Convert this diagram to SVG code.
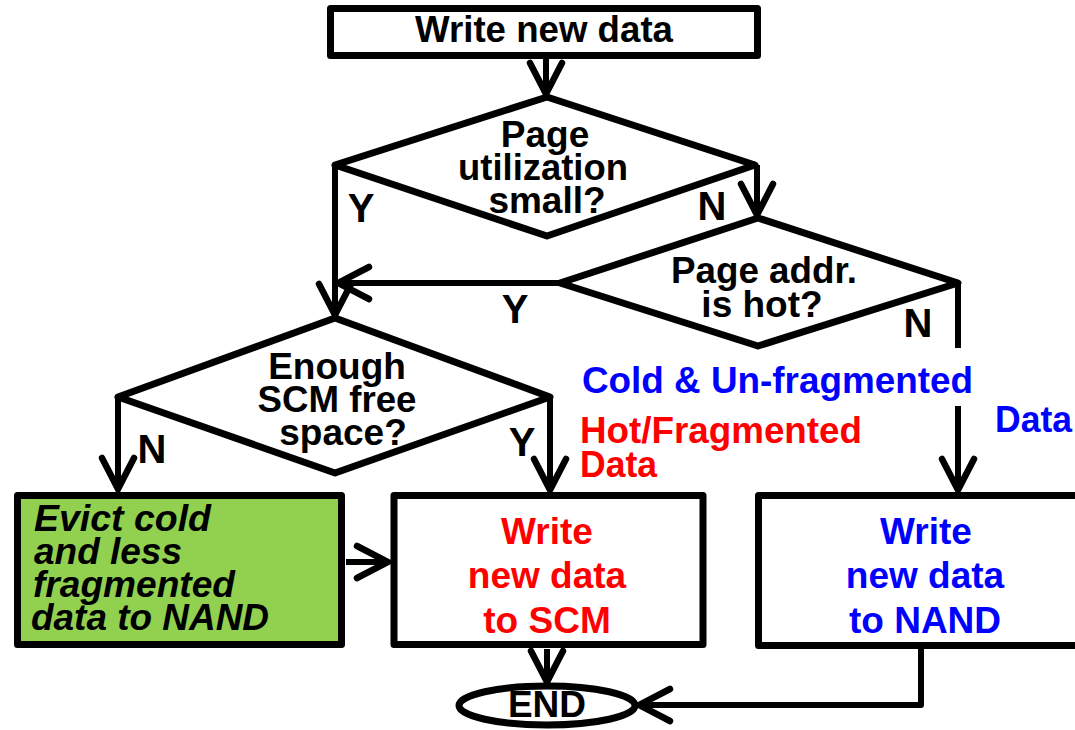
<svg xmlns="http://www.w3.org/2000/svg" width="1075" height="730" viewBox="0 0 1075 730">
  <style>
    .shape { fill: #ffffff; stroke: #000000; stroke-width: 7; stroke-linejoin: round; }
    .green { fill: #92D050; }
    .conn { fill: none; stroke: #000000; stroke-width: 6; stroke-linejoin: round; }
    .t { font-family: "Liberation Sans", Arial, sans-serif; font-weight: bold; font-size: 37px; text-anchor: middle; fill: #000000; }
    .yn { font-size: 40px; }
    .left { text-anchor: start; }
    .ital { font-style: italic; }
    .red { fill: #FF0000; }
    .blue { fill: #0000FF; }
  </style>
  <defs>
    <marker id="chev" viewBox="-36 -22 40 44" refX="0" refY="0" markerWidth="40" markerHeight="44" markerUnits="userSpaceOnUse" orient="auto">
      <path d="M-31,-16 L0,0 L-31,16" fill="none" stroke="#000000" stroke-width="6.5" stroke-linecap="round" stroke-linejoin="miter"/>
    </marker>
  </defs>

  <!-- connectors -->
  <g id="connectors">
    <path class="conn" d="M546,58 V94" marker-end="url(#chev)"/>
    <path class="conn" d="M335,165 V315" marker-end="url(#chev)"/>
    <path class="conn" d="M757,165 V215" marker-end="url(#chev)"/>
    <path class="conn" d="M560,283 H338" marker-end="url(#chev)"/>
    <path class="conn" d="M958,283 V348"/>
    <path class="conn" d="M958,406 V490" marker-end="url(#chev)"/>
    <path class="conn" d="M118,397 V489" marker-end="url(#chev)"/>
    <path class="conn" d="M550,397 V490" marker-end="url(#chev)"/>
    <path class="conn" d="M346,562 H388" marker-end="url(#chev)"/>
    <path class="conn" d="M547,649 V682" marker-end="url(#chev)"/>
    <path class="conn" d="M921,649 V705 H639" marker-end="url(#chev)"/>
  </g>

  <!-- start -->
  <g id="start">
    <rect class="shape" x="330.5" y="8.5" width="427" height="47"/>
    <text class="t" x="544" y="42" textLength="258" lengthAdjust="spacingAndGlyphs">Write new data</text>
  </g>

  <!-- decision: page utilization -->
  <g id="dec-util">
    <polygon class="shape" points="547,97 755,165 547,236 335,165"/>
    <text class="t" x="545" y="147">Page</text>
    <text class="t" x="543" y="180" textLength="170" lengthAdjust="spacingAndGlyphs">utilization</text>
    <text class="t" x="547" y="213">small?</text>
  </g>

  <!-- decision: page address hot -->
  <g id="dec-hot">
    <polygon class="shape" points="758,218 958,283 758,346 560,283"/>
    <text class="t" x="764" y="283" textLength="186" lengthAdjust="spacingAndGlyphs">Page addr.</text>
    <text class="t" x="762" y="317">is hot?</text>
  </g>

  <!-- decision: SCM free space -->
  <g id="dec-space">
    <polygon class="shape" points="335,318 550,397 335,473 118,397"/>
    <text class="t" x="337" y="379">Enough</text>
    <text class="t" x="337" y="412" textLength="159" lengthAdjust="spacingAndGlyphs">SCM free</text>
    <text class="t" x="343" y="445">space?</text>
  </g>

  <!-- branch labels -->
  <g id="labels">
    <text class="t yn" x="361" y="222">Y</text>
    <text class="t yn" x="712" y="220">N</text>
    <text class="t yn" x="515" y="323">Y</text>
    <text class="t yn" x="918" y="337">N</text>
    <text class="t yn" x="152" y="463">N</text>
    <text class="t yn" x="522" y="456">Y</text>
    <text class="t left blue" x="582" y="393" textLength="391" lengthAdjust="spacingAndGlyphs">Cold &amp; Un-fragmented</text>
    <text class="t left blue" x="995" y="432" textLength="77" lengthAdjust="spacingAndGlyphs">Data</text>
    <text class="t left red" x="580" y="443" textLength="282" lengthAdjust="spacingAndGlyphs">Hot/Fragmented</text>
    <text class="t left red" x="580" y="477" textLength="77" lengthAdjust="spacingAndGlyphs">Data</text>
  </g>

  <!-- evict step -->
  <g id="evict">
    <rect class="shape green" x="17.5" y="495.5" width="324" height="149"/>
    <text class="t left ital" x="34" y="531" textLength="177" lengthAdjust="spacingAndGlyphs">Evict cold</text>
    <text class="t left ital" x="34" y="564" textLength="148" lengthAdjust="spacingAndGlyphs">and less</text>
    <text class="t left ital" x="33" y="597" textLength="202" lengthAdjust="spacingAndGlyphs">fragmented</text>
    <text class="t left ital" x="31" y="630" textLength="238" lengthAdjust="spacingAndGlyphs">data to NAND</text>
  </g>

  <!-- write to SCM -->
  <g id="write-scm">
    <rect class="shape" x="394" y="495.5" width="309" height="149"/>
    <text class="t red" x="547" y="544">Write</text>
    <text class="t red" x="547" y="588">new data</text>
    <text class="t red" x="547" y="633">to SCM</text>
  </g>

  <!-- write to NAND -->
  <g id="write-nand">
    <rect class="shape" x="758.5" y="495.5" width="330" height="150"/>
    <text class="t blue" x="926" y="544">Write</text>
    <text class="t blue" x="925" y="588">new data</text>
    <text class="t blue" x="925" y="633">to NAND</text>
  </g>

  <!-- end -->
  <g id="end">
    <ellipse class="shape" cx="547" cy="705.5" rx="88" ry="19.5" stroke-width="6"/>
    <text class="t" x="547" y="717">END</text>
  </g>
</svg>
